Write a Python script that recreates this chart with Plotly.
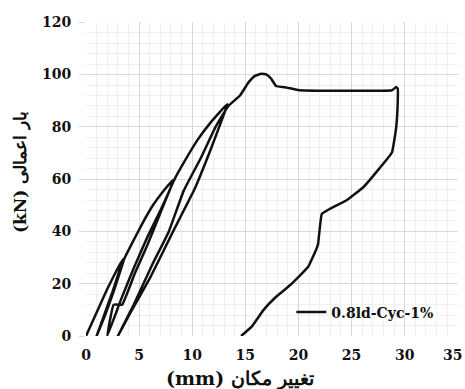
import plotly.graph_objects as go

# displacement (mm) and applied load (kN)
disp = [0.0, 1.0, 2.0, 3.0, 3.5,
        3.3, 2.5, 1.8, 1.0,
        1.8, 2.6, 3.4, 3.6,
        4.4, 5.3, 6.3, 7.2, 8.2,
        8.0, 7.0, 5.8, 4.5, 3.3, 2.0,
        2.6, 3.4, 4.6, 5.8, 7.0, 8.0, 8.4,
        9.3, 10.5, 11.8, 13.3,
        13.0, 11.8, 10.2, 8.2, 6.0, 4.2, 3.0,
        4.5, 6.2, 7.8, 9.2, 10.8, 12.2, 13.4,
        14.5, 15.3, 15.9, 16.5, 17.0, 17.4, 17.9, 18.9, 20.1, 28.8, 29.2, 29.35,
        29.35, 29.2, 28.8, 27.7, 26.1, 24.5, 22.95, 22.2, 21.85, 21.7,
        20.9, 19.2, 17.9, 16.7, 15.6, 14.6]
load = [0.0, 9.0, 18.0, 26.0, 29.5,
        27.0, 17.0, 9.0, 0.0,
        8.0, 17.0, 27.0, 29.5,
        36.0, 43.0, 50.0, 55.0, 59.7,
        57.0, 48.0, 38.0, 26.0, 14.0, 0.0,
        12.0, 12.0, 24.0, 35.0, 47.0, 57.0, 60.5,
        67.0, 75.0, 82.0, 88.7,
        85.0, 72.0, 56.0, 40.0, 22.0, 9.0, 0.0,
        12.0, 27.0, 40.0, 55.6, 68.0, 80.0, 88.0,
        92.0, 97.0, 99.5, 100.3, 100.0, 98.6, 95.6, 95.0, 94.0, 94.0, 95.2, 94.6,
        90.0, 79.7, 70.2, 64.5, 56.9, 51.8, 48.6, 46.7, 35.3, 33.4,
        26.4, 19.4, 15.0, 9.9, 3.6, 0.0]

series_name = "0.8ld-Cyc-1%"
x_title = "(mm) تغییر مکان"
y_title = "(kN) بار اعمالی"

x_ticks = [0, 5, 10, 15, 20, 25, 30, 35]
x_tick_labels = ["0", "5", "10", "15", "20", "25", "30", ""]
last_x_label = "35"
y_ticks = [0, 20, 40, 60, 80, 100, 120]

FONT = "DejaVu Serif"

fig = go.Figure()
fig.add_trace(go.Scatter(x=disp, y=load, mode="lines", name=series_name,
                         line=dict(color="#111111", width=2.5, shape="spline", smoothing=0.3)))

W, H = 465, 389
L, R, T, B = 86, 7, 22, 53

fig.update_layout(
    width=W, height=H,
    margin=dict(l=L, r=R, t=T, b=B),
    paper_bgcolor="white", plot_bgcolor="white",
    font=dict(family=FONT, size=14, color="#111111"),
    showlegend=True,
    legend=dict(x=0.552, y=0.075, xanchor="left", yanchor="middle",
                bgcolor="rgba(0,0,0,0)", borderwidth=0,
                font=dict(family=FONT, size=14, color="#111111", weight="bold")),
)
fig.update_xaxes(range=[0, 35.02], tickvals=x_ticks, ticktext=x_tick_labels,
                 showgrid=True, gridcolor="#d9d9d9", gridwidth=1,
                 minor=dict(dtick=1, showgrid=True, gridcolor="#f0f0f0", gridwidth=1),
                 zeroline=False, showline=False, ticks="", automargin=False,
                 ticklabelstandoff=9,
                 tickfont=dict(family=FONT, size=14, color="#111111", weight="bold"))
fig.update_yaxes(range=[0, 120.1], tickvals=y_ticks, ticktext=[str(v) for v in y_ticks],
                 showgrid=True, gridcolor="#d9d9d9", gridwidth=1,
                 minor=dict(dtick=4, showgrid=True, gridcolor="#f0f0f0", gridwidth=1),
                 zeroline=False, showline=False, ticks="outside", ticklen=6,
                 tickcolor="#d9d9d9", ticklabelstandoff=5, automargin=False,
                 tickfont=dict(family=FONT, size=14, color="#111111", weight="bold"))

# last x tick label placed just inside the page edge
fig.add_annotation(text=last_x_label, xref="x", yref="paper", x=x_ticks[-1], y=0,
                   xanchor="center", yanchor="top", xshift=-5, yshift=-9,
                   showarrow=False,
                   font=dict(family=FONT, size=14, color="#111111", weight="bold"))

fig.add_annotation(text=x_title, xref="paper", yref="paper",
                   x=(240 - L) / (W - L - R), y=-(378 - (H - B)) / (H - T - B),
                   xanchor="center", yanchor="middle", showarrow=False,
                   font=dict(family=FONT, size=19, color="#111111", weight="bold"))
fig.add_annotation(text=y_title, xref="paper", yref="paper",
                   x=-(L - 20) / (W - L - R), y=(H - B - 172) / (H - T - B),
                   xanchor="center", yanchor="middle", showarrow=False, textangle=-90,
                   font=dict(family=FONT, size=17, color="#111111", weight="bold"))

fig.write_html("out.html")
